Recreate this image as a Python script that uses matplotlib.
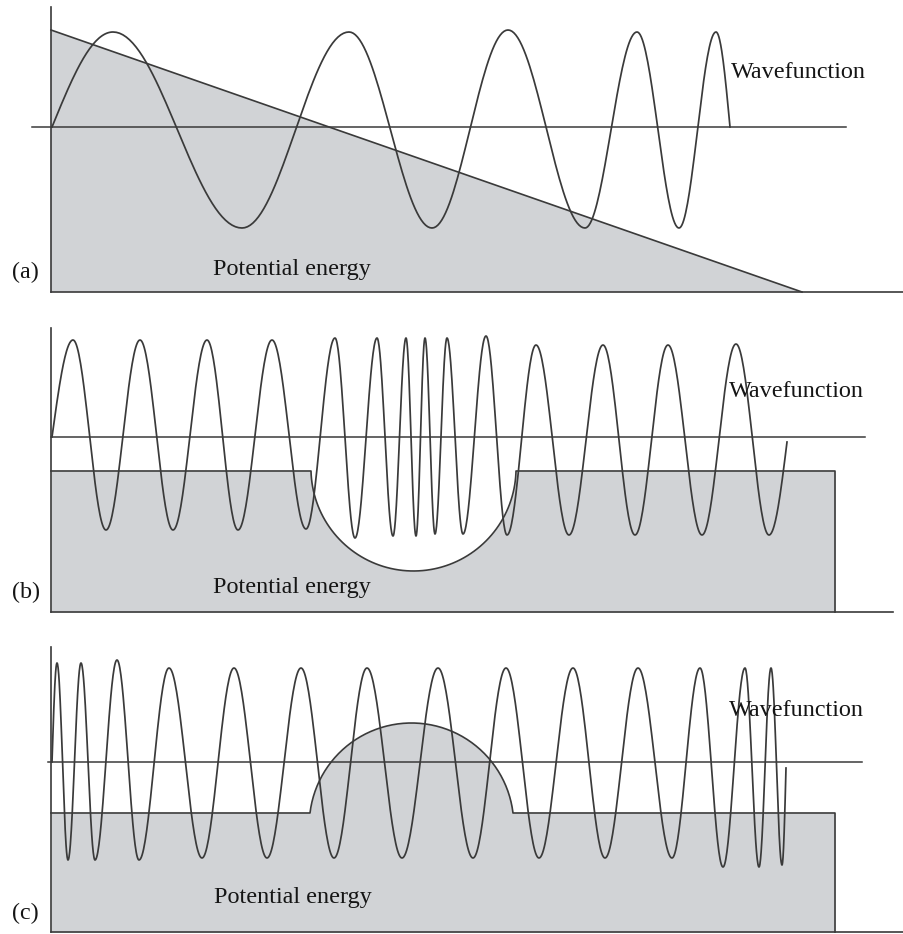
import numpy as np
import matplotlib

matplotlib.use("Agg")
import matplotlib.pyplot as plt

plt.rcParams["font.family"] = ["Liberation Serif", "DejaVu Serif"]

FILL = "#d1d3d6"
INK = "#3a3a3a"
TEXT = "#151515"

# horizontal positions run left -> right across the figure,
# vertical values are measured from each panel's zero (energy) line

# (a) linear ramp potential
A_WAVE_X = [52, 113, 242, 349, 432, 508, 585, 637, 679, 716, 730]
A_WAVE_Y = [0, 95, -101, 95, -101, 97, -101, 95, -101, 95, 0]
A_RAMP_X = [51, 802]
A_RAMP_Y = [97, -165]

# (b) flat potential with a round well
B_WAVE_X = [52, 73, 106, 140, 173, 207, 238, 272, 306, 335, 355, 377, 393, 406, 416,
            425, 435, 447, 463, 486, 507, 536, 569, 603, 635, 668, 702, 736, 769, 787]
B_WAVE_Y = [0, 97, -93, 97, -93, 97, -93, 97, -92, 99, -101, 99, -99, 99, -99,
            99, -97, 99, -97, 101, -98, 92, -98, 92, -98, 92, -98, 93, -98, -5]
B_LEVEL = -34
B_WELL = (311, 516, -134)  # left, right, bottom of the well
B_STEP_END = 835

# (c) flat potential with a round barrier
C_WAVE_X = [52, 57, 68, 81, 95, 117, 139, 169, 202, 234, 267, 301, 334, 367, 402,
            438, 473, 506, 539, 573, 605, 638, 672, 700, 723, 745, 759, 771, 782, 786]
C_WAVE_Y = [0, 99, -98, 99, -98, 102, -98, 94, -96, 94, -96, 94, -96, 94, -96,
            94, -96, 94, -96, 94, -96, 94, -96, 94, -105, 94, -105, 94, -103, -6]
C_LEVEL = -51
C_BUMP = (310, 513, 39)  # left, right, top of the barrier
C_STEP_END = 835

PANEL_LABELS = ["(a)", "(b)", "(c)"]


def wave_curve(xs, ys, n=40):
    """Join turning points with quarter/half cosine arcs."""
    out_x, out_y = [float(xs[0])], [float(ys[0])]
    last = len(xs) - 2
    t = np.linspace(0, 1, n)[1:]
    for i in range(len(xs) - 1):
        if i == 0:
            shape = np.sin(np.pi * t / 2)
        elif i == last:
            shape = 1 - np.cos(np.pi * t / 2)
        else:
            shape = (1 - np.cos(np.pi * t)) / 2
        out_x.extend(xs[i] + (xs[i + 1] - xs[i]) * t)
        out_y.extend(ys[i] + (ys[i + 1] - ys[i]) * shape)
    return np.asarray(out_x), np.asarray(out_y)


def round_profile(level, left, right, extreme, end, n=160):
    """Flat potential with a circular dip/bump between left and right."""
    half = (right - left) / 2
    sag = extreme - level
    radius = (half ** 2 + sag ** 2) / (2 * abs(sag))
    sign = np.sign(sag)
    cx = (left + right) / 2
    cy = extreme - sign * radius
    tmax = np.arccos(np.clip((level - cy) / (sign * radius), -1, 1))
    th = np.linspace(-tmax, tmax, n)
    arc_x = cx + radius * np.sin(th)
    arc_y = cy + sign * radius * np.cos(th)
    xs = np.concatenate([[51, arc_x[0]], arc_x, [arc_x[-1], end]])
    ys = np.concatenate([[level, level], arc_y, [level, level]])
    return xs, ys


def draw_frame(ax, base, axis_top, zero_span, base_end):
    ax.plot([51, 51], [base, axis_top], color=INK, lw=1.2, zorder=3)
    ax.plot([51, base_end], [base, base], color=INK, lw=1.2, zorder=3)
    ax.plot(zero_span, [0, 0], color=INK, lw=1.1, zorder=3)


def add_texts(ax, label, label_y, pe_x, pe_y, wf_x, wf_y):
    kw = dict(fontsize=17.4, color=TEXT, va="baseline", ha="left", zorder=6)
    ax.text(12, label_y, label, **kw)
    ax.text(pe_x, pe_y, "Potential energy", **kw)
    ax.text(wf_x, wf_y, "Wavefunction", **kw)


fig = plt.figure(figsize=(9.04, 9.34), dpi=100)
H = 934.0

# panel rows in the picture (top, bottom, zero line)
rows = [(0, 305, 127), (305, 620, 437), (620, 934, 762)]
axes = []
for top, bottom, zero in rows:
    ax = fig.add_axes([0, (H - bottom) / H, 1, (bottom - top) / H])
    ax.set_xlim(0, 904)
    ax.set_ylim(zero - bottom, zero - top)
    ax.axis("off")
    axes.append(ax)

# (a)
ax = axes[0]
base = -165
ax.fill([A_RAMP_X[0], A_RAMP_X[1], A_RAMP_X[0]], [A_RAMP_Y[0], A_RAMP_Y[1], base],
        color=FILL, lw=0, zorder=1)
ax.plot(A_RAMP_X, A_RAMP_Y, color=INK, lw=1.2, zorder=2)
draw_frame(ax, base, 120, [32, 846], 904)
wx, wy = wave_curve(A_WAVE_X, A_WAVE_Y)
ax.plot(wx, wy, color=INK, lw=1.25, zorder=4)
add_texts(ax, PANEL_LABELS[0], -151, 213, -148, 731, 49)

# (b)
ax = axes[1]
base = -175
px, py = round_profile(B_LEVEL, *B_WELL, B_STEP_END)
ax.fill_between(px, py, base, color=FILL, lw=0, zorder=1)
ax.plot(np.append(px, B_STEP_END), np.append(py, base), color=INK, lw=1.2, zorder=2)
draw_frame(ax, base, 109, [51, 865], 893)
wx, wy = wave_curve(B_WAVE_X, B_WAVE_Y)
ax.plot(wx, wy, color=INK, lw=1.25, zorder=4)
add_texts(ax, PANEL_LABELS[1], -161, 213, -156, 729, 40)

# (c)
ax = axes[2]
base = -170
px, py = round_profile(C_LEVEL, *C_BUMP, C_STEP_END)
ax.fill_between(px, py, base, color=FILL, lw=0, zorder=1)
ax.plot(np.append(px, C_STEP_END), np.append(py, base), color=INK, lw=1.2, zorder=2)
draw_frame(ax, base, 115, [48, 862], 904)
wx, wy = wave_curve(C_WAVE_X, C_WAVE_Y)
ax.plot(wx, wy, color=INK, lw=1.25, zorder=4)
add_texts(ax, PANEL_LABELS[2], -157, 214, -141, 729, 46)

fig.savefig("out.png", dpi=100, facecolor="white")
